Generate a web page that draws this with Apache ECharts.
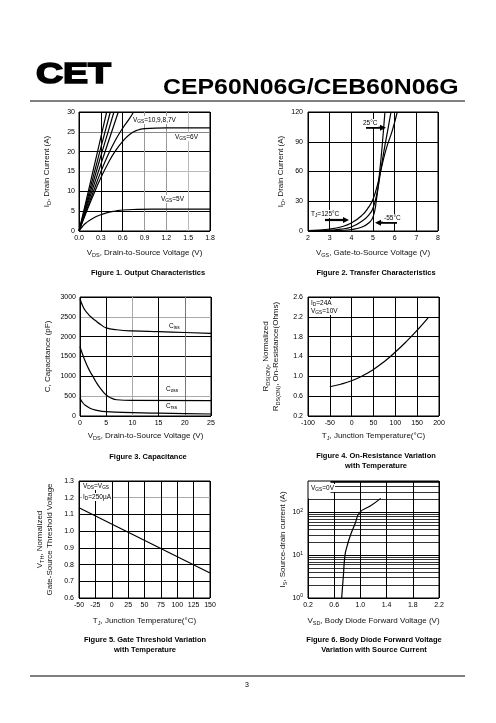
<!DOCTYPE html>
<html><head><meta charset="utf-8">
<script src="https://cdn.jsdelivr.net/npm/echarts@6/dist/echarts.min.js"></script>
<style>html,body{margin:0;padding:0;background:#fff}#c{width:496px;height:723px}</style>
</head><body><div id="c"></div>
<script>
// ---------------- DATA ----------------
// Figure 1: Output characteristics  [VDS (V), ID (A)]
const fig1Vgs10 = [[0,0],[0.1,7.8],[0.2,15.7],[0.3,23.6],[0.38,30]];
const fig1Vgs9  = [[0,0],[0.1,7.0],[0.2,14.0],[0.3,21.0],[0.43,30]];
const fig1Vgs8  = [[0,0],[0.1,6.3],[0.2,12.6],[0.3,18.9],[0.4,25.0],[0.48,30]];
const fig1Vgs7  = [[0,0],[0.1,5.7],[0.2,11.3],[0.3,16.8],[0.4,22.3],[0.54,30]];
const fig1Vgs7b = [[0,0],[0.1,5.1],[0.2,10.1],[0.3,14.9],[0.4,19.2],[0.5,22.9],[0.6,25.9],[0.7,28.5],[0.75,30]];
const fig1Vgs6  = [[0,0],[0.1,4.7],[0.2,9.2],[0.3,13.4],[0.4,17.1],[0.5,20.2],[0.6,22.6],[0.7,24.4],[0.8,25.4],[0.9,25.8],[1.2,26],[1.8,26]];
const fig1Vgs5  = [[0,0],[0.05,1.2],[0.1,2.1],[0.2,3.3],[0.3,4.1],[0.4,4.7],[0.5,5.05],[0.6,5.3],[0.8,5.45],[1.0,5.5],[1.8,5.5]];
// Figure 2: Transfer characteristics [VGS (V), ID (A)]
const fig2T125 = [[2,0.4],[2.5,1],[3,2],[3.5,4],[4,8],[4.5,16],[4.8,24],[5,32],[5.2,46],[5.35,60],[5.6,82],[5.9,102],[6.12,120]];
const fig2T25  = [[2,0],[2.5,0.3],[3,0.8],[3.5,1.8],[4,4],[4.5,10],[4.8,16],[5,23],[5.2,40],[5.35,60],[5.5,80],[5.7,104],[5.83,120]];
const fig2Tm55 = [[2,0],[3,0.2],[3.5,0.6],[4,1.5],[4.5,4],[4.8,8],[5,14],[5.15,30],[5.3,58],[5.42,85],[5.55,120]];
// Figure 3: Capacitance [VDS (V), C (pF)]
const fig3Ciss = [[0,2950],[0.5,2780],[1,2660],[1.5,2580],[2,2510],[3,2400],[4,2300],[5,2220],[7,2175],[10,2145],[15,2125],[20,2105],[25,2085]];
const fig3Coss = [[0,1750],[0.5,1550],[1,1380],[1.5,1230],[2,1100],[2.5,990],[3,870],[4,680],[5,530],[6,450],[7,410],[10,395],[25,390]];
const fig3Crss = [[0,450],[0.5,340],[1,270],[2,190],[3,150],[5,110],[10,85],[15,70],[20,60],[25,50]];
// Figure 4: On-resistance vs temperature [TJ (C), normalized RDS(on)]
const fig4Rds = [[-50,0.79],[-25,0.84],[0,0.91],[25,1.01],[50,1.14],[75,1.3],[100,1.49],[125,1.7],[150,1.93],[175,2.18]];
// Figure 5: Gate threshold vs temperature [TJ (C), normalized VTH]
const fig5Vth = [[-50,1.14],[150,0.75]];
// Figure 6: Body diode forward voltage [VSD (V), IS (A)]
const fig6Is = [[0.714,1],[0.74,3.3],[0.765,10],[0.8,17],[0.84,27],[0.92,55],[0.99,100],[1.15,140],[1.31,212]];
const fig6MinorGrid = [2,3,4,5,6,7,8,9,20,30,40,50,60,70,80,90,200,300,400,500];

// ---------------- CHART ----------------
const FONT = "'Liberation Sans', Arial, sans-serif";
const nameRich = {
  m:{fontSize:8, fontFamily:FONT, color:'#111', fill:'#111', lineHeight:10},
  s:{fontSize:5.5, fontFamily:FONT, color:'#111', fill:'#111', lineHeight:5, verticalAlign:'bottom'}
};
const annRich = {
  m:{fontSize:6.5, fontFamily:FONT, fill:'#000', lineHeight:8},
  s:{fontSize:4.8, fontFamily:FONT, fill:'#000', lineHeight:4, verticalAlign:'bottom'}
};
const chart = echarts.init(document.getElementById('c'));

const grids = [
  {left:79, top:112, width:131, height:119},
  {left:308, top:112, width:130, height:119},
  {left:80, top:297, width:131, height:119},
  {left:308, top:297, width:131, height:119},
  {left:79, top:481, width:131, height:117},
  {left:308, top:481, width:131, height:117}
].map(g => Object.assign({show:true, borderColor:'#000', borderWidth:1, containLabel:false}, g));

function ax(idx, o) {
  const a = {
    type:o.type||'value', gridIndex:idx, min:o.min, max:o.max,
    name:o.name, nameLocation:'middle', nameGap:o.gap,
    nameTextStyle:{rich:nameRich, color:'#111', fontSize:8, lineHeight:10, fontFamily:FONT},
    axisLine:{show:false}, axisTick:{show:false},
    axisLabel:{fontSize:7, fontFamily:FONT, color:'#000', margin:o.margin||4, formatter:o.fmt || (v => String(v)),
      rich:{b:{fontSize:7, fontFamily:FONT, color:'#000', lineHeight:9}, p:{fontSize:5, fontFamily:FONT, color:'#000', lineHeight:4, verticalAlign:'top'}}},
    splitLine:{show:true, lineStyle:{color:o.colors||'#000', width:1}}
  };
  if (o.interval !== undefined) a.interval = o.interval;
  if (o.type === 'log') a.logBase = 10;
  return a;
}
const f1 = v => v.toFixed(1);
const xAxes = [
  ax(0,{min:0,max:1.8,interval:0.3,fmt:f1,gap:17,name:'{m|V}{s|DS}{m|, Drain-to-Source Voltage (V)}',colors:['#000','#000','#000','#999','#999','#bbb','#000']}),
  ax(1,{min:2,max:8,interval:1,gap:17,name:'{m|V}{s|GS}{m|, Gate-to-Source Voltage (V)}'}),
  ax(2,{min:0,max:25,interval:5,gap:15,name:'{m|V}{s|DS}{m|, Drain-to-Source Voltage (V)}',colors:['#000','#000','#aaa','#000','#777','#000']}),
  ax(3,{min:-100,max:200,interval:50,gap:15,name:'{m|T}{s|J}{m|, Junction Temperature(°C)}'}),
  ax(4,{min:-50,max:150,interval:25,gap:18,name:'{m|T}{s|J}{m|, Junction Temperature(°C)}'}),
  ax(5,{min:0.2,max:2.2,interval:0.4,fmt:f1,gap:18,name:'{m|V}{s|SD}{m|, Body Diode Forward Voltage (V)}'})
];
const yAxes = [
  ax(0,{min:0,max:30,interval:5,gap:27,margin:4,name:'{m|I}{s|D}{m|, Drain Current (A)}',colors:['#000','#000','#000','#bbb','#000','#888','#000']}),
  ax(1,{min:0,max:120,interval:30,gap:22,margin:5,name:'{m|I}{s|D}{m|, Drain Current (A)}'}),
  ax(2,{min:0,max:3000,interval:500,gap:27,margin:4,name:'C, Capacitance (pF)',colors:['#000','#aaa','#000','#000','#000','#aaa','#000']}),
  ax(3,{min:0.2,max:2.6,interval:0.4,fmt:f1,gap:27,margin:5,name:'{m|R}{s|DS(ON)}{m|, Normalized}\n{m|R}{s|DS(ON)}{m|, On-Resistance(Ohms)}'}),
  ax(4,{min:0.6,max:1.3,interval:0.1,fmt:f1,gap:24,margin:5,name:'{m|V}{s|TH}{m|, Normalized}\n{m|Gate-Source Threshold Voltage}',colors:['#000','#000','#000','#000','#000','#000','#aaa','#000']}),
  ax(5,{type:'log',min:1,max:540,gap:20,margin:5,name:'{m|I}{s|S}{m|, Source-drain current (A)}',
    fmt:v=>{const e=Math.round(Math.log10(v)); return Math.abs(Math.pow(10,e)-v)<1e-6 ? '{b|10}{p|'+e+'}' : '';}})
];

function line(i, data, extra) {
  return Object.assign({type:'line', xAxisIndex:i, yAxisIndex:i, data:data, showSymbol:false, symbol:'none',
    smooth:true, silent:true, lineStyle:{color:'#000', width:1.2}, z:3}, extra||{});
}
const series = [
  line(0,fig1Vgs10), line(0,fig1Vgs9), line(0,fig1Vgs8), line(0,fig1Vgs7), line(0,fig1Vgs7b), line(0,fig1Vgs6), line(0,fig1Vgs5),
  line(1,fig2T125), line(1,fig2T25), line(1,fig2Tm55),
  line(2,fig3Ciss), line(2,fig3Coss), line(2,fig3Crss),
  line(3,fig4Rds),
  line(4,fig5Vth,{smooth:false}),
  line(5,fig6Is,{markLine:{silent:true, symbol:'none', label:{show:false}, animation:false,
     lineStyle:{color:'#000', width:0.8, type:'solid'}, data:fig6MinorGrid.map(v=>({yAxis:v}))}})
];

function ann(x, y, text, bg) {
  return {type:'text', x:x, y:y, z:50, style:{text:text, rich:annRich, fill:'#000', fontSize:6.5, fontFamily:FONT,
    verticalAlign:'middle', backgroundColor: bg===false ? null : '#fff', padding:[0,1]}};
}
function cap(x, y, text) {
  return {type:'text', x:x, y:y, z:50, style:{text:text, fill:'#000', font:'bold 7.5px '+FONT, align:'center', verticalAlign:'middle', lineHeight:9.5}};
}
function arrow(x1, x2, y) {
  const dir = x2 > x1 ? 1 : -1;
  return [
    {type:'line', z:49, shape:{x1:x1, y1:y, x2:x2-dir*5, y2:y}, style:{stroke:'#000', lineWidth:2.2}},
    {type:'polygon', z:49, shape:{points:[[x2,y],[x2-dir*6,y-3],[x2-dir*6,y+3]]}, style:{fill:'#000'}}
  ];
}
const graphic = [
  {type:'text', x:36, y:75, scaleX:1.25, z:50, style:{text:'CET', font:'bold 30px '+FONT, fill:'#000', stroke:'#000', lineWidth:1.6, verticalAlign:'middle'}},
  {type:'text', x:163, y:88, scaleX:1.13, z:50, style:{text:'CEP60N06G/CEB60N06G', font:'bold 22px '+FONT, fill:'#000', verticalAlign:'middle'}},
  {type:'line', z:50, shape:{x1:30, y1:101, x2:465, y2:101}, style:{stroke:'#000', lineWidth:1}},
  {type:'line', z:50, shape:{x1:30, y1:676, x2:465, y2:676}, style:{stroke:'#000', lineWidth:1}},
  {type:'text', x:247, y:685, z:50, style:{text:'3', font:'7px '+FONT, fill:'#000', align:'center', verticalAlign:'middle'}},
  // annotations
  ann(132,120,'{m|V}{s|GS}{m|=10,9,8,7V}'),
  ann(174,137,'{m|V}{s|GS}{m|=6V}'),
  ann(160,199,'{m|V}{s|GS}{m|=5V}'),
  ann(362,123,'{m|25°C}'),
  ann(310,214,'{m|T}{s|J}{m|=125°C}'),
  ann(383,218,'{m|-55°C}'),
  ann(168,326,'{m|C}{s|iss}'),
  ann(165,389,'{m|C}{s|oss}'),
  ann(165,406,'{m|C}{s|rss}'),
  ann(310,303,'{m|I}{s|D}{m|=24A}'),
  ann(310,311,'{m|V}{s|GS}{m|=10V}'),
  ann(82,486,'{m|V}{s|DS}{m|=V}{s|GS}'),
  ann(82,497,'{m|I}{s|D}{m|=250µA}'),
  {type:'rect', z:48, shape:{x:308.5, y:481.5, width:22, height:17}, style:{fill:'#fff'}},
  ann(310,488,'{m|V}{s|GS}{m|=0V}'),
  ...arrow(366,386,127.7),
  ...arrow(325,349,220),
  ...arrow(397,375,222.7),
  // captions
  cap(148,273,'Figure 1. Output Characteristics'),
  cap(376,273,'Figure 2. Transfer Characteristics'),
  cap(148,457,'Figure 3. Capacitance'),
  cap(376,461,'Figure 4. On-Resistance Variation\nwith Temperature'),
  cap(145,645,'Figure 5. Gate Threshold Variation\nwith Temperature'),
  cap(374,645,'Figure 6. Body Diode Forward Voltage\nVariation with Source Current')
];

chart.setOption({animation:false, backgroundColor:'#fff', grid:grids, xAxis:xAxes, yAxis:yAxes, series:series, graphic:graphic});
</script></body></html>
